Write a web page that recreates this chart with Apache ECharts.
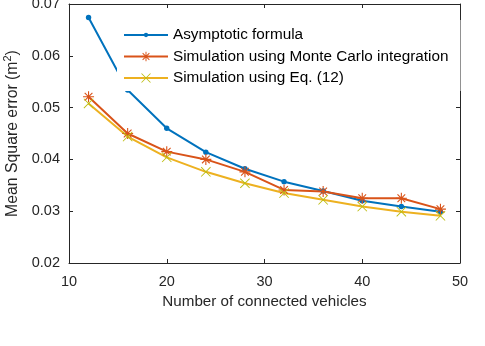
<!DOCTYPE html>
<html>
<head>
<meta charset="utf-8">
<script src="https://cdn.jsdelivr.net/npm/echarts@6/dist/echarts.min.js"></script>
<style>
  html, body { margin: 0; padding: 0; background: #fff; }
  #chart { width: 485px; height: 346px; }
</style>
</head>
<body>
<div id="chart"></div>
<script>
  // number of connected vehicles
  const vehicles = [12, 16, 20, 24, 28, 32, 36, 40, 44, 48];
  const asymptotic = [0.0674, 0.0534, 0.0460, 0.0414, 0.0382, 0.0357, 0.0339, 0.0320, 0.0309, 0.0299];
  const monteCarlo = [0.0521, 0.0450, 0.0415, 0.0400, 0.0376, 0.0341, 0.0338, 0.0325, 0.0325, 0.0304];
  const eq12 = [0.0508, 0.0444, 0.0404, 0.0376, 0.0354, 0.0335, 0.0322, 0.0309, 0.0299, 0.0291];
  const seriesNames = ['Asymptotic formula', 'Simulation using Monte Carlo integration', 'Simulation using Eq. (12)'];

  const font = '"Liberation Sans", Arial, sans-serif';
  const axisColor = '#262626';

  // marker shapes (matlab style)
  const dotPath = 'path://M0 0M20 20M5.5 10A4.5 4.5 0 1 0 14.5 10A4.5 4.5 0 1 0 5.5 10Z';
  const starPath = 'path://M9 0L11 0L11 20L9 20Z M0 9L20 9L20 11L0 11Z' +
    'M3.7 2.3L17.7 16.3L16.3 17.7L2.3 3.7Z M16.3 2.3L17.7 3.7L3.7 17.7L2.3 16.3Z';
  const crossPath = 'path://M1.3 0L20 18.7L18.7 20L0 1.3Z M18.7 0L20 1.3L1.3 20L0 18.7Z';

  function pairs(ys) {
    return vehicles.map((x, i) => [x, ys[i]]);
  }

  let chart = echarts.init(document.getElementById('chart'));

  const boxAxis = {
    axisLine: {show: true, lineStyle: {color: axisColor, width: 1}},
    axisTick: {show: true, inside: true, length: 4, lineStyle: {color: axisColor}},
    splitLine: {show: false}
  };

  chart.setOption({
    animation: false,
    textStyle: {fontFamily: font},
    grid: {left: 69, right: 25, top: 4, bottom: 83, outerBoundsMode: 'none'},
    legend: {
      orient: 'vertical',
      left: 117,
      top: 20,
      padding: [7, 12, 5, 6],
      itemWidth: 44,
      itemHeight: 12,
      itemGap: 5.5,
      backgroundColor: '#ffffff',
      textStyle: {fontFamily: font, fontSize: 15.3, lineHeight: 16, color: '#000'},
      data: seriesNames
    },
    xAxis: [
      Object.assign({
        type: 'value',
        min: 10,
        max: 50,
        interval: 10,
        name: 'Number of connected vehicles',
        nameLocation: 'middle',
        nameGap: 26,
        nameTextStyle: {fontFamily: font, fontSize: 15.2, color: axisColor},
        axisLabel: {fontFamily: font, fontSize: 14.5, color: axisColor, margin: 11}
      }, boxAxis),
      Object.assign({
        type: 'value',
        position: 'top',
        min: 10,
        max: 50,
        interval: 10,
        axisLabel: {show: false}
      }, boxAxis)
    ],
    yAxis: [
      Object.assign({
        type: 'value',
        min: 0.02,
        max: 0.07,
        interval: 0.01,
        name: '{a|Mean Square error (m}{s|2}{a|)}',
        nameLocation: 'middle',
        nameGap: 38,
        nameTextStyle: {
          rich: {
            a: {fontFamily: font, fontSize: 15.8, lineHeight: 20, color: axisColor},
            s: {fontFamily: font, fontSize: 11, lineHeight: 20, color: axisColor, verticalAlign: 'top'}
          }
        },
        axisLabel: {
          fontFamily: font, fontSize: 14.5, color: axisColor, margin: 9,
          formatter: v => v.toFixed(2)
        }
      }, boxAxis),
      Object.assign({
        type: 'value',
        position: 'right',
        min: 0.02,
        max: 0.07,
        interval: 0.01,
        axisLabel: {show: false}
      }, boxAxis)
    ],
    series: [
      {
        name: seriesNames[0],
        type: 'line',
        data: pairs(asymptotic),
        symbol: dotPath,
        symbolSize: 12,
        lineStyle: {color: '#0072BD', width: 2},
        itemStyle: {color: '#0072BD'}
      },
      {
        name: seriesNames[1],
        type: 'line',
        data: pairs(monteCarlo),
        symbol: starPath,
        symbolSize: 11,
        lineStyle: {color: '#D95319', width: 2},
        itemStyle: {color: '#D95319'}
      },
      {
        name: seriesNames[2],
        type: 'line',
        data: pairs(eq12),
        symbol: crossPath,
        symbolSize: 10,
        lineStyle: {color: '#EDB120', width: 2},
        itemStyle: {color: '#BDBD12'}
      }
    ]
  });
</script>
</body>
</html>
